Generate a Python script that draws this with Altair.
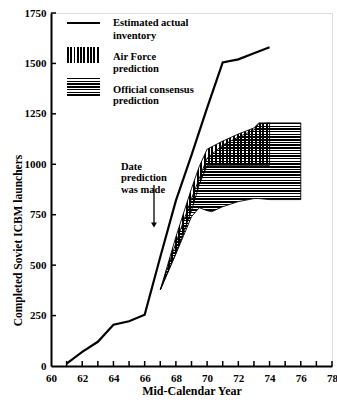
import altair as alt
import pandas as pd

# ---- data ----
years_actual = [61, 62, 63, 64, 65, 66, 67, 68, 69, 70, 71, 72, 73, 74]
inventory = [12, 70, 120, 205, 222, 254, 540, 820, 1045, 1280, 1505, 1520, 1550, 1580]

af_years = [67, 68, 69, 69.5, 70, 71, 72, 73, 73.3, 74]
af_low = [377, 560, 770, 900, 995, 995, 995, 995, 995, 995]
af_high = [377, 640, 880, 990, 1075, 1115, 1150, 1180, 1205, 1205]

cons_years = [67, 68, 69, 69.5, 70, 70.3, 71, 72, 73, 73.3, 74, 76]
cons_low = [377, 555, 740, 785, 770, 765, 790, 815, 830, 830, 825, 825]
cons_high = [377, 610, 830, 930, 1030, 1050, 1095, 1135, 1170, 1200, 1205, 1205]

x_tick_years = list(range(61, 79))
y_tick_values = [250, 500, 750, 1000, 1250, 1500, 1750]
x_label_values = list(range(60, 80, 2))
y_label_values = [0, 250, 500, 750, 1000, 1250, 1500, 1750]

legend_labels = ["Estimated actual\ninventory", "Air Force\nprediction", "Official consensus\nprediction"]
note_text = "Date\nprediction\nwas made"

FONT = "Liberation Serif"
W, H = 281, 353


def stripes(n, vertical, frac=0.55):
    stops = []
    for i in range(n):
        a, b, c = i / n, (i + frac) / n, (i + 1) / n
        stops += [
            alt.GradientStop(offset=a, color="black"),
            alt.GradientStop(offset=b, color="black"),
            alt.GradientStop(offset=b, color="rgba(0,0,0,0)"),
            alt.GradientStop(offset=c, color="rgba(0,0,0,0)"),
        ]
    if vertical:
        return alt.Gradient(gradient="linear", stops=stops, x1=0, x2=1, y1=0, y2=0)
    return alt.Gradient(gradient="linear", stops=stops, x1=0, x2=0, y1=0, y2=1)


actual_df = pd.DataFrame({"year": years_actual, "n": inventory})
af_df = pd.DataFrame({"year": af_years, "lo": af_low, "hi": af_high})
cons_df = pd.DataFrame({"year": cons_years, "lo": cons_low, "hi": cons_high})
xt_df = pd.DataFrame({"year": x_tick_years})
yt_df = pd.DataFrame({"n": y_tick_values})
one = pd.DataFrame({"a": [0]})

xscale = alt.Scale(domain=[60, 78], nice=False, zero=False)
yscale = alt.Scale(domain=[0, 1750], nice=False)

xaxis = alt.Axis(values=x_label_values, format="d", ticks=False, grid=False,
                 labelOverlap=False, labelFlush=False,
                 domainColor="black", domainWidth=2, labelFont=FONT, labelFontSize=11,
                 labelFontWeight="bold", labelColor="black", labelPadding=6,
                 title="Mid-Calendar Year", titleFont=FONT, titleFontSize=12,
                 titleFontWeight="bold", titleColor="black", titlePadding=2)
yaxis = alt.Axis(values=y_label_values, format="d", ticks=False, grid=False,
                 labelOverlap=False, labelFlush=False,
                 domainColor="black", domainWidth=2, labelFont=FONT, labelFontSize=11,
                 labelFontWeight="bold", labelColor="black", labelPadding=5,
                 title="Completed Soviet ICBM launchers", titleFont=FONT, titleFontSize=11.5,
                 titleFontWeight="bold", titleColor="black", titleX=-28, titleY=227)

X = alt.X("year:Q", scale=xscale, axis=xaxis)


def Y(field):
    return alt.Y(field, scale=yscale, axis=yaxis)


cons = alt.Chart(cons_df).mark_area(
    fill=stripes(62, False), stroke="black", strokeWidth=0.9
).encode(x=X, y=Y("lo:Q"), y2="hi:Q")

af = alt.Chart(af_df).mark_area(
    fill=stripes(30, True), stroke="black", strokeWidth=0.9
).encode(x=X, y=Y("lo:Q"), y2="hi:Q")

line = alt.Chart(actual_df).mark_line(color="black", strokeWidth=2.2).encode(
    x=X, y=Y("n:Q")
)

xticks = alt.Chart(xt_df).mark_rule(color="black", strokeWidth=1.5).encode(
    x=X, y=alt.value(H), y2=alt.value(H - 5)
)

yticks = alt.Chart(yt_df).mark_rule(color="black", strokeWidth=1.5).encode(
    y=Y("n:Q"), x=alt.value(0), x2=alt.value(5)
)

# legend
leg_line = alt.Chart(one).mark_rule(color="black", strokeWidth=2.2).encode(
    x=alt.value(16), x2=alt.value(49), y=alt.value(10)
)
leg_af = alt.Chart(one).mark_rect(fill=stripes(10, True)).encode(
    x=alt.value(16), x2=alt.value(49), y=alt.value(34), y2=alt.value(50)
)
leg_cons = alt.Chart(one).mark_rect(fill=stripes(7, False)).encode(
    x=alt.value(16), x2=alt.value(49), y=alt.value(65), y2=alt.value(84)
)


def label(txt, x, y, lh=11.5):
    return alt.Chart(one).mark_text(
        text=txt, lineBreak="\n", lineHeight=lh, align="left", baseline="middle",
        font=FONT, fontSize=10.5, fontWeight="bold", color="black"
    ).encode(x=alt.value(x), y=alt.value(y))


t1 = label(legend_labels[0], 62, 10, 13)
t2 = label(legend_labels[1], 62, 44)
t3 = label(legend_labels[2], 62, 76.5)
note = label(note_text, 70, 153.5)

arrow_shaft = alt.Chart(one).mark_rule(color="black", strokeWidth=1.3).encode(
    x=alt.value(103), y=alt.value(172), y2=alt.value(210)
)
arrow_head = alt.Chart(one).mark_point(
    shape="triangle-down", filled=True, color="black", size=35, opacity=1
).encode(x=alt.value(103), y=alt.value(212))

chart = alt.layer(
    cons, af, line, xticks, yticks, leg_line, leg_af, leg_cons, t1, t2, t3, note,
    arrow_shaft, arrow_head
).properties(
    width=W, height=H,
    autosize=alt.AutoSizeParams(type="none"),
    padding={"left": 51, "top": 13, "right": 5, "bottom": 37},
).configure_view(stroke=None).configure(background="white")

chart.save("out.html", embed_options={"renderer": "svg", "actions": False})
